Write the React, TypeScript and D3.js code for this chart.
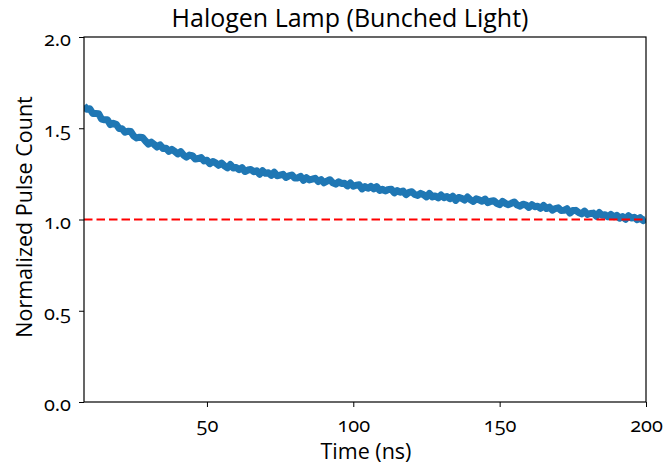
import React, { useEffect, useRef } from 'react';
import * as d3 from 'd3';

// time axis in ns, one reading per ns from 8 to 200
const startTime = 8;
const pulseCount = [
  1.624, 1.604, 1.607, 1.581, 1.581, 1.580, 1.550, 1.546, 1.547, 1.520,
  1.527, 1.522, 1.499, 1.497, 1.478, 1.484, 1.482, 1.457, 1.447, 1.451,
  1.449, 1.430, 1.413, 1.424, 1.411, 1.397, 1.409, 1.389, 1.391, 1.373,
  1.384, 1.373, 1.359, 1.372, 1.353, 1.342, 1.353, 1.350, 1.331, 1.334,
  1.339, 1.321, 1.325, 1.306, 1.318, 1.310, 1.297, 1.309, 1.294, 1.283,
  1.301, 1.282, 1.285, 1.273, 1.284, 1.263, 1.271, 1.274, 1.262, 1.267,
  1.248, 1.267, 1.253, 1.256, 1.242, 1.259, 1.240, 1.243, 1.248, 1.230,
  1.239, 1.244, 1.227, 1.228, 1.236, 1.215, 1.229, 1.217, 1.221, 1.226,
  1.208, 1.218, 1.201, 1.210, 1.218, 1.201, 1.194, 1.206, 1.197, 1.199,
  1.184, 1.200, 1.182, 1.188, 1.190, 1.168, 1.180, 1.171, 1.182, 1.168,
  1.180, 1.159, 1.165, 1.156, 1.165, 1.166, 1.146, 1.158, 1.149, 1.156,
  1.136, 1.148, 1.152, 1.137, 1.132, 1.143, 1.136, 1.124, 1.143, 1.124,
  1.129, 1.118, 1.134, 1.120, 1.126, 1.114, 1.127, 1.105, 1.121, 1.116,
  1.106, 1.123, 1.108, 1.099, 1.113, 1.108, 1.100, 1.112, 1.092, 1.100,
  1.103, 1.089, 1.081, 1.099, 1.088, 1.081, 1.089, 1.096, 1.079, 1.073,
  1.084, 1.079, 1.066, 1.081, 1.070, 1.073, 1.061, 1.077, 1.060, 1.068,
  1.051, 1.060, 1.064, 1.049, 1.050, 1.059, 1.035, 1.049, 1.050, 1.038,
  1.031, 1.046, 1.028, 1.033, 1.035, 1.018, 1.038, 1.023, 1.026, 1.015,
  1.028, 1.015, 1.023, 1.007, 1.016, 1.001, 1.021, 1.008, 1.012, 0.999,
  1.010, 0.994, 1.003,
];
const xTicks = [50, 100, 150, 200];
const yTicks = [0, 0.5, 1.0, 1.5, 2.0];
const baseline = 1.0;

const width = 665, height = 468;
const margin = { top: 37, right: 19, bottom: 66, left: 84 };
const font = "'Open Sans', Lato, sans-serif";

const App = () => {
  const ref = useRef<SVGSVGElement>(null);

  useEffect(() => {
    const svg = d3.select(ref.current);
    svg.selectAll('*').remove();

    const innerW = width - margin.left - margin.right;
    const innerH = height - margin.top - margin.bottom;

    const x = d3.scaleLinear().domain([startTime, 200]).range([0, innerW]);
    const y = d3.scaleLinear().domain([0, 2]).range([innerH, 0]);

    const g = svg.append('g')
      .attr('transform', `translate(${margin.left},${margin.top})`);

    g.append('defs').append('clipPath').attr('id', 'plotclip')
      .append('rect').attr('width', innerW).attr('height', innerH);

    const line = d3.line<number>()
      .x((d, i) => x(startTime + i))
      .y(d => y(d));

    g.append('path')
      .datum(pulseCount)
      .attr('clip-path', 'url(#plotclip)')
      .attr('fill', 'none')
      .attr('stroke', '#1f77b4')
      .attr('stroke-width', 7)
      .attr('stroke-linejoin', 'round')
      .attr('d', line);

    g.append('line')
      .attr('x1', 0).attr('x2', innerW)
      .attr('y1', y(baseline)).attr('y2', y(baseline))
      .attr('stroke', '#ff0000')
      .attr('stroke-width', 2)
      .attr('stroke-dasharray', '8.5,4');

    const xAxis = g.append('g')
      .attr('transform', `translate(0,${innerH})`)
      .call(d3.axisBottom(x).tickValues(xTicks).tickFormat(d3.format('d')).tickSizeOuter(0).tickSize(5).tickPadding(10.5));
    const yAxis = g.append('g')
      .call(d3.axisLeft(y).tickValues(yTicks).tickFormat(d3.format('.1f')).tickSizeOuter(0).tickSize(5).tickPadding(8));
    yAxis.selectAll('text').attr('dy', '0.43em');

    [xAxis, yAxis].forEach(a => {
      a.selectAll('text')
        .attr('font-family', font)
        .attr('font-size', 20)
        .attr('fill', '#000')
        .style('font-variant-numeric', 'oldstyle-nums');
      a.selectAll('line').attr('stroke', '#000');
      a.select('.domain').remove();
    });

    g.append('rect')
      .attr('width', innerW).attr('height', innerH)
      .attr('fill', 'none').attr('stroke', '#000').attr('stroke-width', 1.2);

    svg.append('text')
      .attr('x', 350).attr('y', 27)
      .attr('text-anchor', 'middle')
      .attr('font-family', font).attr('font-size', 25)
      .text('Halogen Lamp (Bunched Light)');

    svg.append('text')
      .attr('x', 366).attr('y', 459)
      .attr('text-anchor', 'middle')
      .attr('font-family', font).attr('font-size', 21.5)
      .text('Time (ns)');

    svg.append('text')
      .attr('transform', `translate(32,217) rotate(-90)`)
      .attr('text-anchor', 'middle')
      .attr('font-family', font).attr('font-size', 21.5)
      .text('Normalized Pulse Count');
  }, []);

  return (
    <svg ref={ref} width={width} height={height}
      style={{ position: 'absolute', left: 0, top: 0, background: '#fff' }} />
  );
};

export default App;
